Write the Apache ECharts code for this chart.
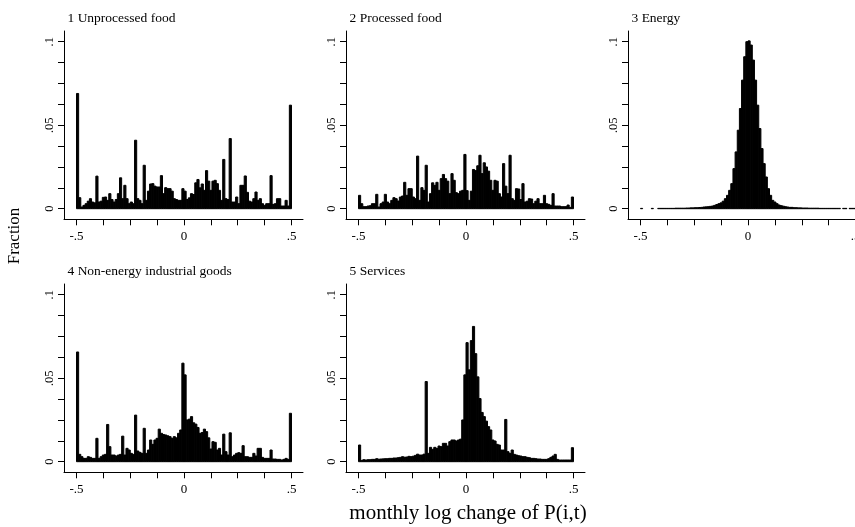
<!DOCTYPE html>
<html>
<head>
<meta charset="utf-8">
<script src="https://cdn.jsdelivr.net/npm/echarts@6/dist/echarts.min.js"></script>
<style>html,body{margin:0;padding:0;background:#fff}#c{width:855px;height:527px}</style>
</head>
<body>
<div id="c"></div>
<script>
// ---- data ----
const panelTitles = ['1 Unprocessed food', '2 Processed food', '3 Energy', '4 Non-energy industrial goods', '5 Services'];
const binStart = -0.5;
const binWidth = 0.01;
const unprocessedFood = [0.069,0.0066,0.001,0.002,0.003,0.0045,0.006,0.004,0.0035,0.0195,
0.004,0.0045,0.0068,0.007,0.005,0.009,0.0055,0.004,0.0055,0.009,
0.0185,0.006,0.014,0.006,0.003,0.004,0.003,0.041,0.006,0.005,
0.003,0.026,0.005,0.0105,0.0148,0.015,0.0135,0.013,0.013,0.0198,
0.009,0.0126,0.012,0.012,0.0105,0.006,0.0055,0.005,0.005,0.012,
0.0105,0.0055,0.0065,0.009,0.0085,0.0155,0.0175,0.0125,0.0148,0.011,
0.0228,0.0165,0.011,0.0165,0.017,0.015,0.011,0.005,0.0295,0.006,
0.0055,0.042,0.004,0.004,0.007,0.003,0.014,0.014,0.0196,0.0098,
0.0045,0.004,0.006,0.010,0.005,0.006,0.003,0.002,0.003,0.003,
0.0198,0.0026,0.003,0.006,0.006,0.0016,0.0016,0.005,0.0016,0.062];
const processedFood = [0.008,0.003,0.0012,0.0012,0.0016,0.0018,0.003,0.003,0.0086,0.001,
0.003,0.004,0.0086,0.004,0.003,0.005,0.0066,0.006,0.0046,0.007,
0.0076,0.0158,0.008,0.012,0.012,0.007,0.006,0.0315,0.005,0.0126,
0.011,0.026,0.004,0.009,0.0155,0.014,0.0158,0.011,0.018,0.0205,
0.018,0.0165,0.009,0.021,0.017,0.0096,0.009,0.0105,0.011,0.0325,
0.0108,0.005,0.0105,0.0235,0.0228,0.0257,0.032,0.021,0.0275,0.025,
0.0225,0.017,0.011,0.017,0.0165,0.009,0.007,0.027,0.0135,0.009,
0.032,0.006,0.005,0.012,0.0118,0.0055,0.015,0.004,0.0045,0.006,
0.0058,0.003,0.0045,0.006,0.003,0.003,0.008,0.003,0.0026,0.002,
0.009,0.0016,0.0016,0.0016,0.0012,0.0012,0.0012,0.0022,0.0008,0.007];
const energy = [0.0002,0,0,0,0,0.0002,0,0,0.0002,0.0002,
0.0002,0.0002,0.0002,0.0002,0.0002,0.0002,0.0003,0.0003,0.0003,0.0003,
0.0003,0.0004,0.0004,0.0005,0.0005,0.0006,0.0006,0.0007,0.0008,0.001,
0.0011,0.0012,0.0014,0.0016,0.002,0.0025,0.003,0.0035,0.0045,0.006,
0.008,0.011,0.015,0.024,0.034,0.047,0.060,0.077,0.091,0.100,
0.1005,0.098,0.089,0.077,0.062,0.048,0.036,0.027,0.019,0.012,
0.008,0.005,0.004,0.003,0.0022,0.0018,0.0015,0.0012,0.001,0.0008,
0.0008,0.0006,0.0006,0.0005,0.0005,0.0004,0.0004,0.0004,0.0003,0.0003,
0.0003,0.0003,0.0003,0.0002,0.0002,0.0002,0.0002,0.0002,0.0002,0.0002,
0.0002,0.0002,0.0002,0,0.0002,0.0002,0,0.0002,0.0002,0.0002,0.0002];
const nonEnergyIndustrialGoods = [0.0657,0.0044,0.003,0.002,0.002,0.003,0.0026,0.002,0.002,0.014,
0.002,0.003,0.004,0.0044,0.0223,0.009,0.004,0.004,0.0034,0.004,
0.0044,0.0153,0.004,0.008,0.007,0.005,0.0044,0.0279,0.0064,0.0056,
0.005,0.020,0.005,0.007,0.013,0.0104,0.013,0.014,0.0195,0.017,
0.0163,0.016,0.0155,0.015,0.014,0.015,0.0143,0.017,0.019,0.059,
0.052,0.025,0.0255,0.027,0.0233,0.0225,0.0205,0.017,0.0175,0.0195,
0.018,0.0143,0.0076,0.012,0.0116,0.007,0.008,0.004,0.0165,0.006,
0.004,0.0173,0.003,0.004,0.005,0.0054,0.005,0.0096,0.003,0.003,
0.0026,0.0026,0.005,0.0034,0.008,0.008,0.0026,0.002,0.002,0.002,
0.007,0.0016,0.0016,0.0014,0.0014,0.001,0.0014,0.002,0.0014,0.029];
const services = [0.01,0.0008,0.0012,0.001,0.0012,0.0012,0.0014,0.0014,0.0018,0.0015,
0.0016,0.0017,0.0018,0.0018,0.002,0.002,0.0022,0.0022,0.0024,0.0026,
0.003,0.0027,0.0028,0.0032,0.003,0.0033,0.0038,0.0045,0.004,0.004,
0.0045,0.048,0.005,0.0086,0.0074,0.0086,0.008,0.0094,0.009,0.011,
0.011,0.0094,0.012,0.013,0.013,0.0124,0.013,0.0135,0.025,0.052,
0.0713,0.055,0.0725,0.081,0.0647,0.0508,0.0378,0.0295,0.027,0.0243,
0.021,0.019,0.013,0.0124,0.0104,0.010,0.007,0.007,0.0253,0.006,
0.005,0.007,0.0044,0.004,0.0036,0.0034,0.003,0.003,0.0026,0.0024,
0.002,0.002,0.0018,0.0016,0.0016,0.0014,0.0014,0.0014,0.0018,0.0026,
0.0034,0.0044,0.0014,0.001,0.001,0.001,0.001,0.001,0.001,0.0084];
const panelValues = [unprocessedFood, processedFood, energy, nonEnergyIndustrialGoods, services];
const xTickValues = [-0.5,-0.375,-0.25,-0.125,0,0.125,0.25,0.375,0.5];
const xLabelValues = [-0.5, 0, 0.5];
const xLabelTexts = ['-.5', '0', '.5'];
const yTickValues = [0,0.0125,0.025,0.0375,0.05,0.0625,0.075,0.0875,0.1];
const yLabelValues = [0, 0.05, 0.1];
const yLabelTexts = ['0', '.05', '.1'];
const yAxisTitle = 'Fraction';
const xAxisTitle = 'monthly log change of P(i,t)';

// ---- layout ----
const FONT = 'Liberation Serif';
const colLeft = [64, 346, 628];
const rowTop = [31, 284];
const gridW = 239, gridH = 188.3;
const pxPerX = 215, dataOffsetX = 12.5;
const pxPerY = 1670, zeroOffsetY = 177.7;
const xMin = binStart - dataOffsetX / pxPerX;
const xMax = xMin + gridW / pxPerX;
const yMax = zeroOffsetY / pxPerY;
const yMin = yMax - gridH / pxPerY;

const grids = [], xAxes = [], yAxes = [], series = [], titles = [];
panelValues.forEach((vals, k) => {
  const r = k < 3 ? 0 : 1, c = k < 3 ? k : k - 3;
  grids.push({left: colLeft[c], top: rowTop[r], width: gridW, height: gridH, containLabel: false, outerBoundsMode: 'none'});
  xAxes.push({
    gridIndex: k, type: 'value', min: xMin, max: xMax,
    axisLine: {show: true, onZero: false, lineStyle: {color: '#000', width: 1}},
    axisTick: {show: true, length: 6, customValues: xTickValues, lineStyle: {color: '#000', width: 1}},
    axisLabel: {show: true, customValues: xLabelValues, margin: 11, color: '#000', fontFamily: FONT, fontSize: 13,
      formatter: v => { const j = xLabelValues.findIndex(t => Math.abs(t - v) < 1e-9); return j >= 0 ? xLabelTexts[j] : ''; }},
    splitLine: {show: false}
  });
  yAxes.push({
    gridIndex: k, type: 'value', min: yMin, max: yMax,
    axisLine: {show: true, onZero: false, lineStyle: {color: '#000', width: 1}},
    axisTick: {show: true, length: 6, customValues: yTickValues, lineStyle: {color: '#000', width: 1}},
    axisLabel: {show: true, customValues: yLabelValues, rotate: 90, margin: 8, color: '#000', fontFamily: FONT, fontSize: 12.5,
      formatter: v => { const j = yLabelValues.findIndex(t => Math.abs(t - v) < 1e-9); return j >= 0 ? yLabelTexts[j] : ''; }},
    splitLine: {show: false}
  });
  titles.push({text: panelTitles[k], left: colLeft[c] + 3.5, top: rowTop[r] - 19.5, padding: 0,
    textStyle: {fontFamily: FONT, fontSize: 13.5, fontWeight: 'normal', color: '#000'}});
  series.push({
    type: 'custom', xAxisIndex: k, yAxisIndex: k, clip: false,
    encode: {x: [0, 1], y: 2},
    data: vals.map((v, i) => [binStart + i * binWidth, binStart + (i + 1) * binWidth, v]),
    renderItem: (params, api) => {
      const v = api.value(2);
      if (!(v > 0)) return null;
      const p0 = api.coord([api.value(0), v]);
      const p1 = api.coord([api.value(1), 0]);
      return {type: 'rect', shape: {x: p0[0], y: p0[1], width: p1[0] - p0[0], height: p1[1] - p0[1]},
        style: {fill: '#000', stroke: '#000', lineWidth: 1}};
    }
  });
});

const chart = echarts.init(document.getElementById('c'), null, {renderer: 'canvas'});
chart.setOption({
  animation: false,
  backgroundColor: '#fff',
  title: titles,
  grid: grids,
  xAxis: xAxes,
  yAxis: yAxes,
  series: series,
  graphic: [
    {type: 'text', x: 15, y: 236, rotation: Math.PI / 2,
      style: {text: yAxisTitle, font: '17px "Liberation Serif"', fill: '#000', textAlign: 'center', textVerticalAlign: 'middle'}},
    {type: 'text', x: 468, y: 513,
      style: {text: xAxisTitle, font: '21px "Liberation Serif"', fill: '#000', textAlign: 'center', textVerticalAlign: 'middle'}}
  ]
});
</script>
</body>
</html>
